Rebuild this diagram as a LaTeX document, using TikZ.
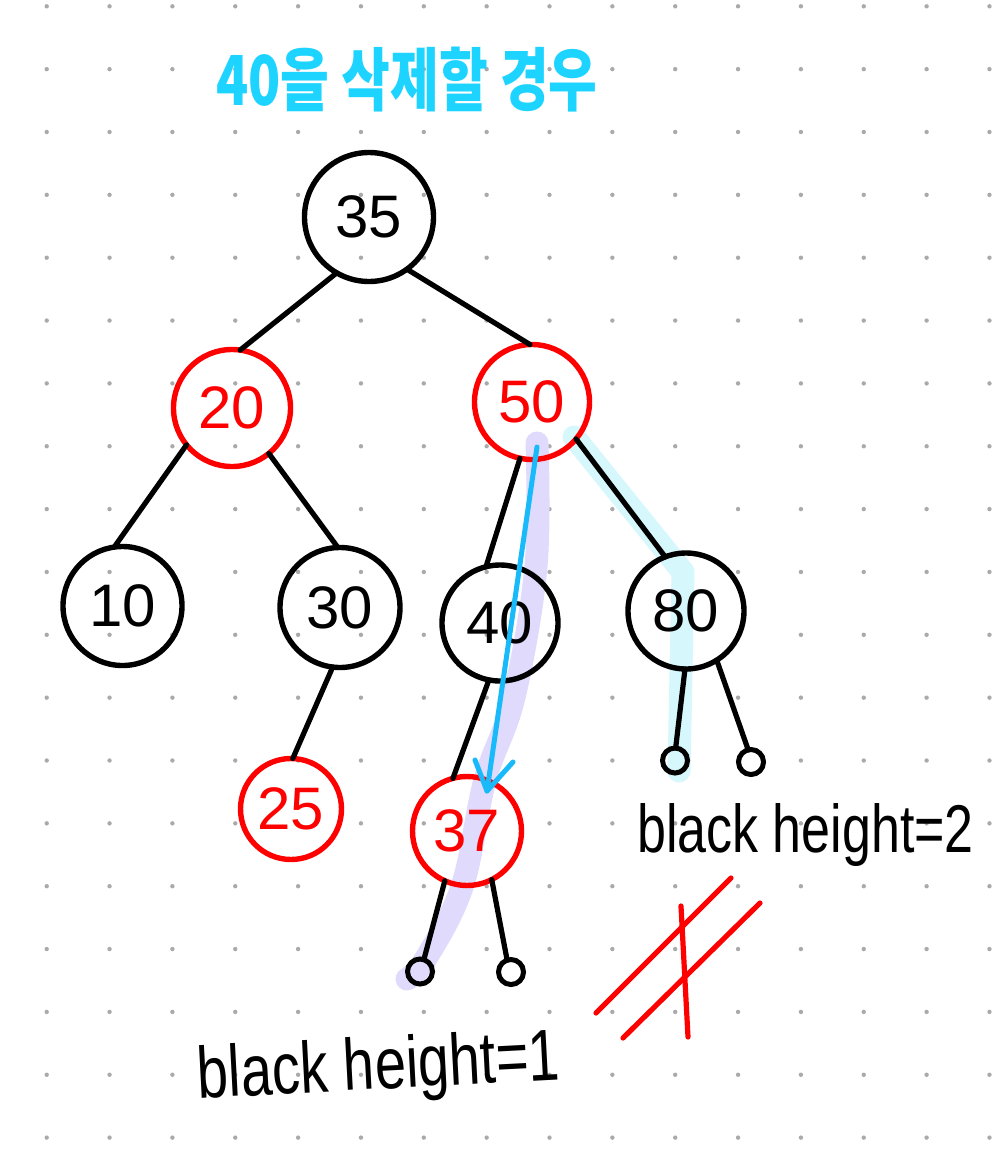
\documentclass[tikz,border=0pt]{standalone}
\usepackage{graphicx}
\usepackage{fontspec}
\setmainfont{Liberation Sans}
\newfontfamily\kr{Noto Sans CJK KR}
\definecolor{dotc}{RGB}{170,170,170}
\definecolor{titlec}{RGB}{28,212,255}
\definecolor{arrowc}{RGB}{24,186,250}
\definecolor{purplehl}{RGB}{224,218,252}
\definecolor{cyanhl}{RGB}{214,247,252}
\begin{document}
\begin{tikzpicture}[x=1pt,y=-1pt,
  tn/.style={circle, line width=5.4pt, inner sep=0pt, outer sep=0pt, font=\fontsize{60}{60}\selectfont},
  bn/.style={tn, draw=black, text=black},
  rn/.style={tn, draw=red, text=red},
  lf/.style={circle, draw=black, line width=5pt, inner sep=0pt, outer sep=0pt, minimum size=25pt},
  ed/.style={draw=black, line width=5.2pt, line cap=round},
  hl/.style={line width=23pt, line cap=round, line join=round},
  bluearrow/.style={draw=arrowc, line width=5pt, line cap=round, line join=round},
  strike/.style={draw=red, line width=5.2pt, line cap=round},
  ]
\useasboundingbox (0,0) rectangle (1000,1160);
\fill[white] (0,0) rectangle (1000,1160);
% dot grid
\foreach \i in {0,...,15}{
  \foreach \j in {0,...,18}{
    \fill[dotc] ({46.7+62.85*\i},{6.3+62.85*\j}) circle[radius=2.2pt];
  }
}
% highlights
\draw[hl, draw=purplehl] plot[smooth, tension=0.6] coordinates {(537,443) (536,566) (514,697) (485,780) (462,887) (425,960) (407,979)};
\draw[hl, draw=cyanhl] (574,437) -- (683,572) -- (679,771);
% title
\node[text=titlec, font=\kr\bfseries\fontsize{53}{53}\selectfont, inner sep=0pt] (title) at (407,80) {\scalebox{1}[1.3]{40을 삭제할 경우}};
% tree nodes
\node[bn, minimum size=129pt] (n35) at (369,217) {35};
\node[rn, minimum size=117pt] (n20) at (232,408) {20};
\node[rn, minimum size=115pt] (n50) at (532,402) {50};
\node[bn, minimum size=119pt] (n10) at (122.5,606) {10};
\node[bn, minimum size=120pt] (n30) at (340,607.5) {30};
\node[bn, minimum size=116pt] (n40) at (500,623) {40};
\node[bn, minimum size=116pt] (n80) at (686,611) {80};
\node[rn, minimum size=101pt] (n25) at (291,809) {25};
\node[rn, minimum size=109pt] (n37) at (467,831) {37};
\node[lf] (l1) at (420,971.5) {};
\node[lf] (l2) at (511,972) {};
\node[lf] (l3) at (675,760.5) {};
\node[lf] (l4) at (751,762) {};
% edges
\draw[ed] (n35.240) -- (n20.82);
\draw[ed] (n35.306) -- (n50.92);
\draw[ed] (n20.219) -- (n10.98);
\draw[ed] (n20.309) -- (n30.92);
\draw[ed] (n30.263) -- (n25.88);
\draw[ed] (n50.258) -- (n40.104);
\draw[ed] (n50.320) -- (n80.111);
\draw[ed] (n40.259) -- (n37.105);
\draw[ed] (n80.269) -- (l3.87);
\draw[ed] (n80.302) -- (l4.103);
\draw[ed] (n37.246) -- (l1.72);
\draw[ed] (n37.297) -- (l2.108);
% labels
\node[anchor=base, font=\fontsize{52}{52}\selectfont, inner sep=0pt] (bh2) at (805.5,852) {\scalebox{1}[1.3]{black height=2}};
\node[anchor=base, rotate=3, font=\fontsize{56}{56}\selectfont, inner sep=0pt] (bh1) at (380,1089) {\scalebox{1}[1.3]{black height=1}};
% not-equal mark
\coordinate (s1a) at (596,1013); \coordinate (s1b) at (731,878);
\coordinate (s2a) at (623,1038); \coordinate (s2b) at (760,903);
\coordinate (s3a) at (681,906);  \coordinate (s3b) at (688,1037);
\draw[strike] (s1a) -- (s1b);
\draw[strike] (s2a) -- (s2b);
\draw[strike] (s3a) -- (s3b);
% blue arrow
\coordinate (aS) at (537,447);
\coordinate (aT) at (487,791);
\coordinate (aL) at (475,760);
\coordinate (aR) at (513,762);
\draw[bluearrow] (aS) -- (aT);
\draw[bluearrow] (aL) -- (aT) -- (aR);
\end{tikzpicture}
\end{document}
